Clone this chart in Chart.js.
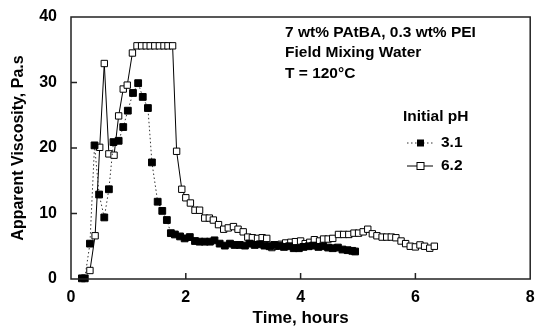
<!DOCTYPE html>
<html>
<head>
<meta charset="utf-8">
<script src="https://cdn.jsdelivr.net/npm/chart.js@4.4.0/dist/chart.umd.min.js"></script>
<style>
  html, body { margin: 0; padding: 0; background: #fff; }
  #wrap { width: 536px; height: 330px; }
</style>
</head>
<body>
<div id="wrap"><canvas id="chart"></canvas></div>
<script>
// initial pH 3.1 (filled squares, dotted line)
var time31 = [0.19, 0.24, 0.33, 0.41, 0.49, 0.58, 0.66, 0.74, 0.83, 0.91, 0.99, 1.08, 1.17, 1.25, 1.34, 1.41,
              1.51, 1.59, 1.67, 1.74, 1.81, 1.90, 1.98, 2.07, 2.16, 2.24, 2.33, 2.42, 2.50, 2.59, 2.68, 2.77,
              2.85, 2.94, 3.03, 3.11, 3.20, 3.29, 3.37, 3.46, 3.54, 3.63, 3.71, 3.80, 3.88, 3.97, 4.05, 4.14,
              4.22, 4.31, 4.39, 4.48, 4.56, 4.65, 4.73, 4.82, 4.90, 4.95];
var visc31 = [0.1, 0.1, 5.4, 20.4, 12.9, 9.4, 13.7, 20.9, 21.1, 23.2, 25.7, 28.4, 29.9, 27.8, 26.1, 17.8,
              11.8, 10.4, 9.0, 7.0, 6.8, 6.5, 6.2, 6.4, 5.8, 5.7, 5.7, 5.7, 5.9, 5.4, 5.1, 5.4,
              5.2, 5.2, 5.1, 5.4, 5.2, 5.3, 5.1, 5.0, 5.2, 5.1, 4.9, 5.0, 4.7, 4.7, 4.9, 5.0,
              5.1, 4.9, 5.0, 4.8, 4.7, 4.8, 4.5, 4.4, 4.3, 4.2];

// initial pH 6.2 (open squares, solid line)
var time62 = [0.33, 0.42, 0.50, 0.58, 0.66, 0.75, 0.83, 0.91, 0.98, 1.07, 1.15, 1.23, 1.31, 1.38, 1.46, 1.54,
              1.62, 1.69, 1.77, 1.84, 1.93, 2.00, 2.08, 2.16, 2.24, 2.33, 2.41, 2.48, 2.57, 2.66, 2.74, 2.83,
              2.91, 3.00, 3.08, 3.16, 3.25, 3.33, 3.41, 3.50, 3.58, 3.66, 3.74, 3.83, 3.91, 4.00, 4.08, 4.16,
              4.24, 4.33, 4.40, 4.48, 4.56, 4.66, 4.75, 4.84, 4.93, 5.01, 5.09, 5.17, 5.25, 5.33, 5.42, 5.50,
              5.58, 5.66, 5.75, 5.83, 5.91, 6.00, 6.08, 6.16, 6.25, 6.33];
var visc62 = [1.3, 6.6, 20.1, 32.9, 19.1, 18.9, 24.9, 29.0, 29.6, 34.5, 35.6, 35.6, 35.6, 35.6, 35.6, 35.6,
              35.6, 35.6, 35.6, 19.5, 13.7, 12.4, 11.6, 10.5, 10.5, 9.3, 9.3, 9.0, 8.3, 7.6, 7.8, 8.0,
              7.6, 7.2, 6.4, 6.3, 6.2, 6.3, 6.2, 4.8, 5.0, 5.3, 5.5, 5.6, 5.7, 5.8, 5.4, 5.6,
              6.0, 5.8, 6.1, 6.1, 6.2, 6.8, 6.8, 6.8, 7.0, 7.0, 7.2, 7.6, 6.9, 6.6, 6.4, 6.4,
              6.4, 6.3, 5.8, 5.4, 5.0, 4.9, 5.2, 5.0, 4.7, 5.0];

var xTicks = [0, 2, 4, 6, 8];
var yTicks = [0, 10, 20, 30, 40];
var noteLines = ['7 wt% PAtBA, 0.3 wt% PEI', 'Field Mixing Water', 'T = 120°C'];
var legendTitle = 'Initial pH';
var seriesNames = ['3.1', '6.2'];

var FONT = '"Liberation Sans", Arial, sans-serif';

function toPoints(xs, ys) {
  return xs.map(function (x, i) { return { x: x, y: ys[i] }; });
}

// frame, inward ticks, notes and legend
var extras = {
  id: 'extras',
  afterDraw: function (chart) {
    var ctx = chart.ctx;
    var a = chart.chartArea;
    var xs = chart.scales.x, ys = chart.scales.y;
    ctx.save();
    ctx.strokeStyle = '#222';
    ctx.lineWidth = 1.5;
    ctx.strokeRect(a.left, a.top, a.right - a.left, a.bottom - a.top);
    ctx.beginPath();
    yTicks.slice(1, -1).forEach(function (v) {
      var py = ys.getPixelForValue(v);
      ctx.moveTo(a.left, py); ctx.lineTo(a.left + 6, py);
    });
    xTicks.slice(1, -1).forEach(function (v) {
      var px = xs.getPixelForValue(v);
      ctx.moveTo(px, a.bottom); ctx.lineTo(px, a.bottom - 6);
    });
    ctx.stroke();

    ctx.fillStyle = '#000';
    ctx.font = 'bold 15.5px ' + FONT;
    ctx.textBaseline = 'middle';
    ctx.textAlign = 'left';
    var nx = a.left + 214;
    ctx.fillText(noteLines[0], nx, a.top + 16);
    ctx.fillText(noteLines[1], nx, a.top + 36);
    ctx.fillText(noteLines[2], nx, a.top + 57);

    var lx = a.left + 332;
    ctx.fillText(legendTitle, lx, a.top + 100);
    var rows = [a.top + 126, a.top + 149];
    ctx.lineWidth = 1;
    // 3.1 sample
    ctx.strokeStyle = '#333';
    ctx.setLineDash([1.5, 2.5]);
    ctx.beginPath(); ctx.moveTo(lx + 4, rows[0]); ctx.lineTo(lx + 30, rows[0]); ctx.stroke();
    ctx.setLineDash([]);
    ctx.fillRect(lx + 14, rows[0] - 3.5, 7, 7);
    // 6.2 sample
    ctx.strokeStyle = '#000';
    ctx.beginPath(); ctx.moveTo(lx + 4, rows[1]); ctx.lineTo(lx + 30, rows[1]); ctx.stroke();
    ctx.fillStyle = '#fff';
    ctx.fillRect(lx + 14, rows[1] - 3.5, 7, 7);
    ctx.strokeRect(lx + 14, rows[1] - 3.5, 7, 7);
    ctx.fillStyle = '#000';
    ctx.fillText(seriesNames[0], lx + 38, rows[0]);
    ctx.fillText(seriesNames[1], lx + 38, rows[1]);
    ctx.restore();
  }
};

new Chart(document.getElementById('chart'), {
  type: 'line',
  data: {
    datasets: [{
      label: seriesNames[0],
      data: toPoints(time31, visc31),
      borderColor: '#333',
      borderWidth: 1,
      borderDash: [1.5, 2.5],
      pointStyle: 'rect',
      pointRadius: 4.8,
      pointBackgroundColor: '#000',
      pointBorderColor: '#000',
      pointBorderWidth: 1,
      clip: false
    }, {
      label: seriesNames[1],
      data: toPoints(time62, visc62),
      borderColor: '#000',
      borderWidth: 1,
      pointStyle: 'rect',
      pointRadius: 4.5,
      pointBackgroundColor: '#fff',
      pointBorderColor: '#000',
      pointBorderWidth: 1,
      clip: false
    }]
  },
  options: {
    responsive: true,
    maintainAspectRatio: false,
    animation: false,
    devicePixelRatio: 1,
    layout: { padding: { top: 17, right: 5, left: 0, bottom: 0 } },
    plugins: { legend: { display: false }, tooltip: { enabled: false } },
    scales: {
      x: {
        type: 'linear', min: 0, max: 8,
        afterFit: function (s) { s.height = 51; },
        afterBuildTicks: function (s) { s.ticks = xTicks.map(function (v) { return { value: v }; }); },
        grid: { display: false },
        border: { display: false },
        ticks: { color: '#000', padding: 1, font: { family: FONT, size: 16, weight: 'bold' } },
        title: { display: true, text: 'Time, hours', color: '#000', padding: { top: 4, bottom: 1 },
                 font: { family: FONT, size: 17, weight: 'bold' } }
      },
      y: {
        min: 0, max: 40,
        afterFit: function (s) { s.width = 71; },
        afterBuildTicks: function (s) { s.ticks = yTicks.map(function (v) { return { value: v }; }); },
        grid: { display: false },
        border: { display: false },
        ticks: { color: '#000', padding: 6, font: { family: FONT, size: 16, weight: 'bold' } },
        title: { display: true, text: 'Apparent Viscosity, Pa.s', color: '#000', padding: { top: 9, bottom: 4 },
                 font: { family: FONT, size: 16, weight: 'bold' } }
      }
    }
  },
  plugins: [extras]
});
</script>
</body>
</html>
